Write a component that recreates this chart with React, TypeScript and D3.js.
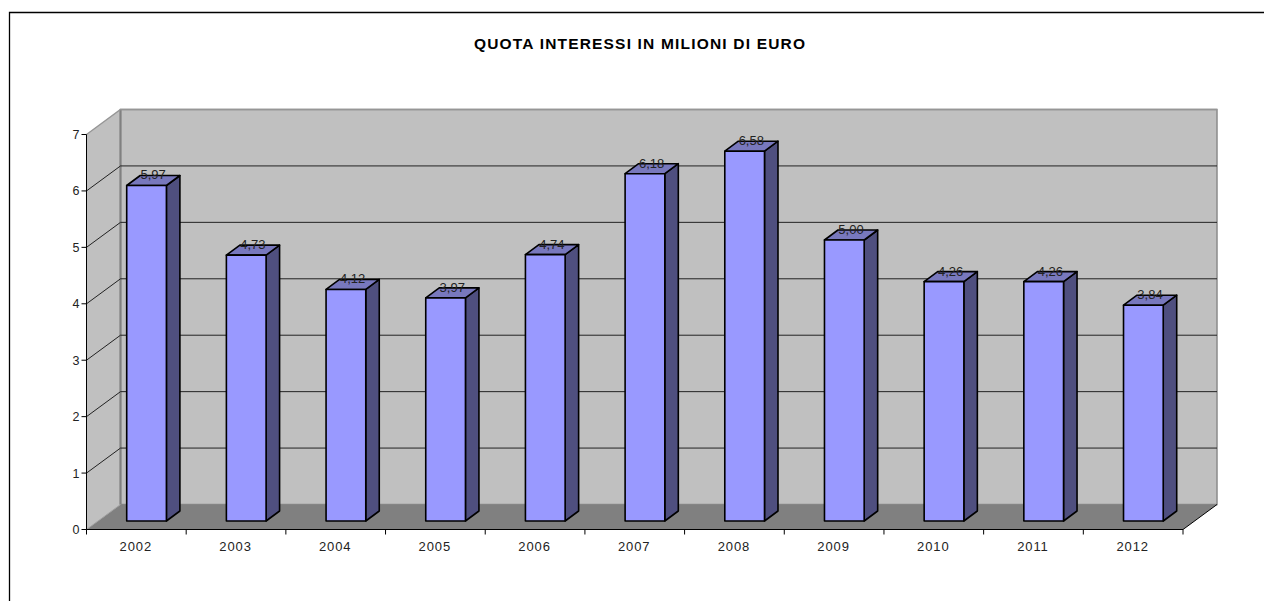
import React from "react";
import * as d3 from "d3";

const years = ["2002","2003","2004","2005","2006","2007","2008","2009","2010","2011","2012"];
const values = [5.97,4.73,4.12,3.97,4.74,6.18,6.58,5.0,4.26,4.26,3.84];
const yTicks = [0,1,2,3,4,5,6,7];
const title = "QUOTA INTERESSI IN MILIONI DI EURO";

const W = 1264, H = 601;
const font = "'Liberation Sans', Arial, sans-serif";
const depthX = 34, depthY = -25;
const barDX = 13.5, barDY = -10;

const x = d3.scaleBand<string>().domain(years).range([86.5, 1183]).paddingInner(0).paddingOuter(0);
const y = d3.scaleLinear().domain([0, 7]).range([529.5, 134.5]);
const barY = d3.scaleLinear().domain([0, 7]).range([521, 521 - 7 * 56.2]);
const fmt = (v: number) => v.toFixed(2).replace(".", ",");
const poly = (pts: number[][]) => (d3.line()(pts as [number, number][]) ?? "") + "Z";

export default function App() {
  const x0 = x.range()[0], x1 = x.range()[1];
  const y0 = y(0), y7 = y(7);
  const barW = 39.7, barOff = 40.2;
  return (
    <svg width={W} height={H} viewBox={`0 0 ${W} ${H}`} style={{ position: "absolute", left: 0, top: 0, display: "block", background: "#fff" }}>
      {/* outer frame */}
      <path d={`M9.5 ${H} V12.5 H${W}`} fill="none" stroke="#000" strokeWidth={1.3} />
      <text x={639.5} y={49} textAnchor="middle" fontFamily={font} fontWeight="bold" fontSize={15.5} textLength={331} lengthAdjust="spacing" fill="#000">{title}</text>

      {/* side wall */}
      <path d={poly([[x0,y0],[x0,y7],[x0+depthX,y7+depthY],[x0+depthX,y0+depthY]])} fill="#c0c0c0" stroke="none" />
      {/* back wall */}
      <path d={poly([[x0+depthX,y0+depthY],[x0+depthX,y7+depthY],[x1+depthX,y7+depthY],[x1+depthX,y0+depthY]])} fill="#c0c0c0" stroke="#8a8a8a" strokeWidth={1.5} />
      {/* floor */}
      <path d={poly([[x0,y0],[x0+depthX,y0+depthY],[x1+depthX,y0+depthY],[x1,y0]])} fill="#808080" stroke="none" />
      <path d={`M${x0+depthX} ${y0+depthY}V${y7+depthY}`} stroke="#808080" strokeWidth={2} fill="none" />

      {/* gridlines */}
      {yTicks.filter(t => t > 0 && t < 7).map(t => (
        <path key={t} d={`M${x0} ${y(t)}L${x0+depthX} ${y(t)+depthY}H${x1+depthX}`} fill="none" stroke="#222" strokeWidth={1} />
      ))}
      <path d={`M${x0} ${y7}L${x0+depthX} ${y7+depthY}H${x1+depthX}`} fill="none" stroke="#969696" strokeWidth={1.4} />
      <path d={`M${x0} ${y0}L${x0+depthX} ${y0+depthY}`} fill="none" stroke="#a0a0a0" strokeWidth={1} />
      <path d={`M${x1} ${y0}L${x1+depthX} ${y0+depthY}`} fill="none" stroke="#000" strokeWidth={1} />

      {/* bars */}
      {years.map((yr, i) => {
        const l = (x(yr) as number) + barOff;
        const r = l + barW;
        const b = barY(0);
        const t = barY(values[i]);
        return (
          <g key={yr} stroke="#000" strokeWidth={1.6} strokeLinejoin="round">
            <path d={poly([[r,b],[r,t],[r+barDX,t+barDY],[r+barDX,b+barDY]])} fill="#4f4f7f" />
            <path d={poly([[l,t],[l+barDX,t+barDY],[r+barDX,t+barDY],[r,t]])} fill="#7878bd" />
            <path d={poly([[l,b],[l,t],[r,t],[r,b]])} fill="#9999ff" />
          </g>
        );
      })}
      {years.map((yr, i) => {
        const l = (x(yr) as number) + barOff;
        return (
          <text key={yr} x={l + 26.5} y={barY(values[i]) - 6} textAnchor="middle" fontFamily={font} fontSize={13} fill="#222">{fmt(values[i])}</text>
        );
      })}

      {/* axes */}
      <path d={`M${x0} ${y7}V${y0}H${x1}`} fill="none" stroke="#000" strokeWidth={1} />
      {yTicks.map(t => (
        <g key={t}>
          <path d={`M${x0-5} ${y(t)}H${x0}`} stroke="#000" strokeWidth={1} />
          <text x={x0-7} y={y(t)+4.5} textAnchor="end" fontFamily={font} fontSize={12.5} fill="#222">{t}</text>
        </g>
      ))}
      {[...years.map(d => x(d) as number), x1].map((px, i) => (
        <path key={i} d={`M${px} ${y0}V${y0+5}`} stroke="#000" strokeWidth={1} />
      ))}
      {years.map(yr => (
        <text key={yr} x={(x(yr) as number) + x.bandwidth()/2 - 0.5} y={551} textAnchor="middle" fontFamily={font} fontSize={13} letterSpacing={0.9} fill="#222">{yr}</text>
      ))}
    </svg>
  );
}
